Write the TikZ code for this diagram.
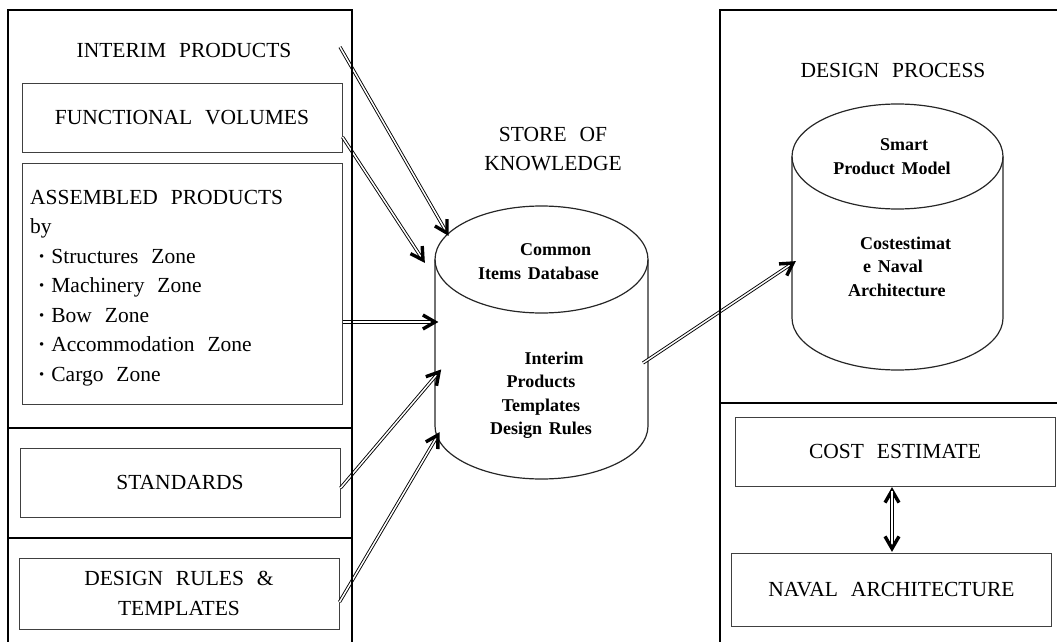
\documentclass[tikz,border=0pt]{standalone}
\usepackage{fontspec}
\setmainfont[WordSpace=2.4]{Liberation Serif}
\newfontfamily\cylfont[WordSpace=1.5]{Liberation Serif}
\usetikzlibrary{calc}

\tikzset{
  frame/.style={line width=2.8pt},
  box/.style={draw=black!75,line width=1pt,minimum width=320pt},
  lbl/.style={font=\fontsize{21.5}{29.5}\selectfont,align=center,inner sep=0pt},
  cyl/.style={draw=black!85,line width=1.2pt},
  ctext/.style={font=\cylfont\bfseries\fontsize{18}{23.5}\selectfont,inner sep=0pt},
  shaft/.style={double,double distance=1.5pt,line width=.9pt,shorten >=4pt},
  head/.style={line width=3.4pt,miter limit=6},
}

\begin{document}
\begin{tikzpicture}[x=1pt,y=-1pt]
\useasboundingbox (0,0) rectangle (1057,642);

% left column: sources
\node[lbl] (ip) at (184,50) {INTERIM PRODUCTS};
\node[box,lbl,minimum height=69pt] (fv) at (182,117.5) {FUNCTIONAL VOLUMES};
\node[box,minimum height=241pt] (ap) at (182,283.5) {};
\node[lbl,align=left,anchor=north west] (zones) at (30,189.9) {ASSEMBLED PRODUCTS\\by\\
  \hspace*{8pt}{\bfseries\textperiodcentered}\hspace{6pt}Structures Zone\\
  \hspace*{8pt}{\bfseries\textperiodcentered}\hspace{6pt}Machinery Zone\\
  \hspace*{8pt}{\bfseries\textperiodcentered}\hspace{6pt}Bow Zone\\
  \hspace*{8pt}{\bfseries\textperiodcentered}\hspace{6pt}Accommodation Zone\\
  \hspace*{8pt}{\bfseries\textperiodcentered}\hspace{6pt}Cargo Zone};
\node[box,lbl,minimum height=69pt] (st) at (180,482.5) {STANDARDS};
\node[box,lbl,minimum height=71pt] (dr) at (179,593.5) {DESIGN RULES \&\\TEMPLATES};

% store of knowledge
\node[lbl] (sk) at (553,149) {STORE OF\\KNOWLEDGE};
\draw[cyl] (435,259.5) -- (435,426) arc[start angle=180,end angle=360,x radius=106.5pt,y radius=53pt] -- (648,259.5);
\draw[cyl] (541.5,259.5) ellipse[x radius=106.5pt,y radius=53.5pt];
\node[ctext,align=left,anchor=north west] (cid) at (478,243.5) {\hspace*{42pt}Common\\Items Database};
\node[ctext,align=center,anchor=north] (ipt) at (541,351.8) {\hspace*{26pt}Interim\\Products\\Templates\\Design Rules};

% design process
\node[lbl] (dp) at (893,70.5) {DESIGN PROCESS};
\draw[cyl] (792,156.5) -- (792,318) arc[start angle=180,end angle=360,x radius=105.5pt,y radius=52pt] -- (1003,156.5);
\draw[cyl] (897.5,156.5) ellipse[x radius=105.5pt,y radius=52.5pt];
\node[ctext,align=center,anchor=north] (spm) at (892,138.5) {\hspace*{24pt}Smart\\Product Model};
\node[ctext,align=left,anchor=north west] (cna) at (848,236.5) {\hspace*{12pt}Costestimat\\\hspace*{15pt}e Naval\\Architecture};
\node[box,lbl,minimum height=69pt] (ce) at (895,451.5) {COST ESTIMATE};
\node[box,lbl,minimum height=73pt] (na) at (891.5,589.5) {NAVAL ARCHITECTURE};

% arrow ends
\coordinate (ipout) at (340,47);
\coordinate (fvout) at ([yshift=-19.5pt]fv.east);
\coordinate (apout) at ([yshift=-38.5pt]ap.east);
\coordinate (stout) at ([yshift=-5.5pt]st.east);
\coordinate (drout) at ([yshift=-8.5pt]dr.east);
\coordinate (kbout) at (643,363);
\coordinate (kbA) at (447,233);
\coordinate (kbB) at (423,260);
\coordinate (kbC) at (435,322);
\coordinate (kbD) at (439,372);
\coordinate (kbE) at (438,435);
\coordinate (pmin) at (793,263);
\coordinate (ceb) at ([xshift=-3pt,yshift=-4pt]ce.south);
\coordinate (nat) at ([xshift=.5pt,yshift=4pt]na.north);

% double shaft, open head drawn as two thick strokes
\foreach \a/\b in {ipout/kbA,fvout/kbB,apout/kbC,stout/kbD,drout/kbE,kbout/pmin,nat/ceb,ceb/nat}{
  \draw[shaft] (\a) -- (\b);
  \draw[head] ($(\b)!14pt!30:(\a)$) -- (\b) -- ($(\b)!14pt!-30:(\a)$);
}

% frames
\draw[frame] (8,642) -- (8,10) -- (352,10) -- (352,642);
\draw[frame] (8,428) -- (352,428) (8,538) -- (352,538);
\draw[frame] (720,642) -- (720,10) -- (1057,10);
\draw[frame] (720,403) -- (1057,403);
\end{tikzpicture}
\end{document}
